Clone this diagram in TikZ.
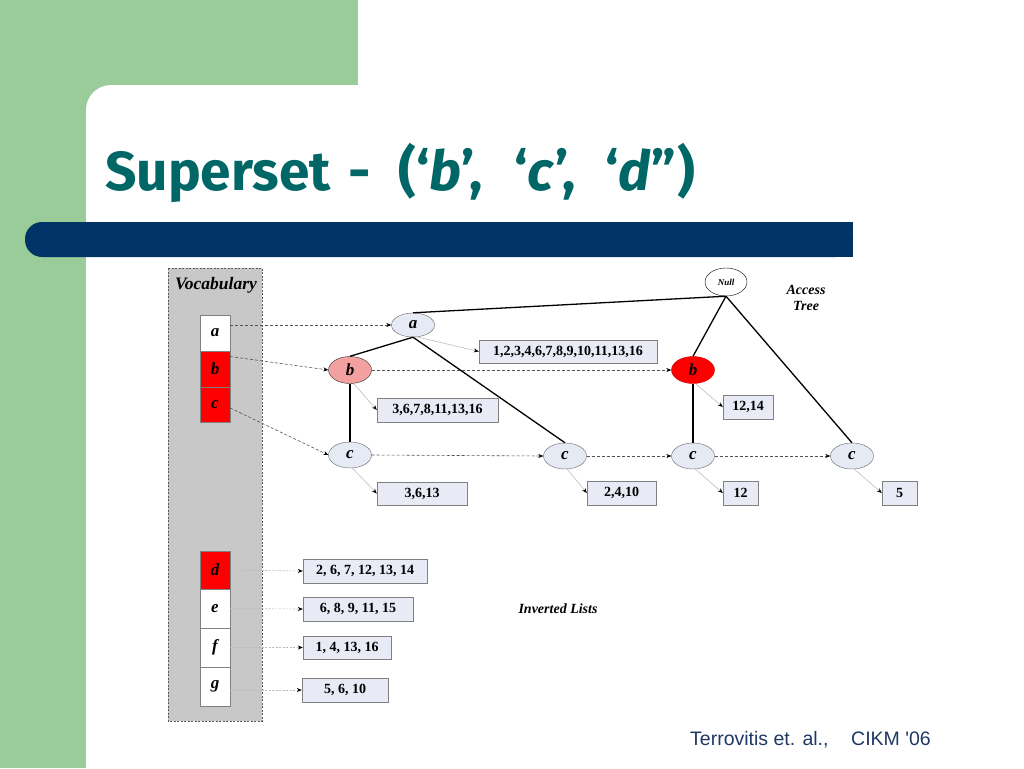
\documentclass[tikz,border=0pt]{standalone}
\usepackage{fontspec}
\setmainfont{Liberation Serif}
\newfontfamily\titlefont{Fira Sans}
\newfontfamily\footfont{Liberation Sans}
\usetikzlibrary{shapes.geometric,arrows.meta}
\definecolor{slgreen}{RGB}{153,204,153}
\definecolor{slnavy}{RGB}{0,51,102}
\definecolor{slteal}{RGB}{0,102,102}
\definecolor{panelgray}{RGB}{200,200,200}
\definecolor{nodefill}{RGB}{230,234,245}
\definecolor{boxfill}{RGB}{232,235,245}
\definecolor{pinkb}{RGB}{242,160,160}
\definecolor{footblue}{RGB}{31,56,100}
\begin{document}
\begin{tikzpicture}[x=1pt,y=-1pt,
  tnode/.style={ellipse,draw=gray!80!black,fill=nodefill,minimum width=43pt,minimum height=26pt,inner sep=0pt,font=\fontsize{17}{17}\selectfont\bfseries\itshape},
  cell/.style={rectangle,draw=gray,fill=white,minimum width=30pt,inner sep=0pt,font=\fontsize{17}{17}\selectfont\bfseries\itshape},
  redcell/.style={cell,fill=red},
  lbox/.style={rectangle,draw=gray,fill=boxfill,minimum height=24pt,inner sep=0pt,font=\fontsize{14}{14}\selectfont\bfseries},
  tedge/.style={draw=black,line width=1.3pt},
  dlink/.style={draw=gray!65!black,dash pattern=on 3pt off 2pt,line width=0.6pt,-{Stealth[length=5pt,width=4pt,color=black]}},
  glink/.style={draw=gray!50,line width=0.6pt,-{Stealth[length=5pt,width=4pt,color=black]}},
  ilink/.style={draw=gray!55,dash pattern=on 2pt off 1.5pt,line width=0.6pt,-{Stealth[length=5pt,width=4pt,color=black]}},
  lbl/.style={font=\fontsize{14}{16}\selectfont\bfseries\itshape,align=center}
]
\useasboundingbox (0,0) rectangle (1024,768);
\clip (0,0) rectangle (1024,768);
% slide background
\fill[slgreen] (0,0) rectangle (1024,768);
\fill[white] (358,0) rectangle (1024,86);
\fill[white,rounded corners=25pt] (86,85) rectangle (1100,850);
\fill[slnavy,rounded corners=17pt] (25,222) rectangle (853,257);
\fill[slnavy] (800,222) rectangle (853,257);
% title
\node[anchor=base west,inner sep=0pt,text=slteal,font=\titlefont\fontsize{55}{60}\selectfont\bfseries] (title) at (105,190) {Superset\hspace{18pt}-\hspace{27pt}(‘\textit{b}’,\hspace{32pt}‘\textit{c}’,\hspace{29pt}‘\textit{d}”\hspace{2pt})};
% vocabulary panel
\draw[fill=panelgray,draw=gray!70!black,dash pattern=on 2pt off 1.5pt,line width=0.6pt] (168,268) rectangle (262,721);
\node[font=\fontsize{17.5}{17.5}\selectfont\bfseries\itshape] (voc) at (216,285) {Vocabulary};
\node[cell,minimum height=36pt] (va) at (215,333) {a};
\node[redcell,minimum height=36pt] (vb) at (215,369) {b};
\node[redcell,minimum height=35pt] (vc) at (215,404.5) {c};
\node[redcell,minimum height=38pt] (vd) at (215,570) {d};
\node[cell,minimum height=39pt] (ve) at (215,608.5) {e};
\node[cell,minimum height=39pt] (vf) at (215,647.5) {f};
\node[cell,minimum height=39pt] (vg) at (215,686.5) {g};
% access tree nodes
\node[tnode,fill=white,draw=black,minimum width=42pt,minimum height=28pt,font=\fontsize{9}{9}\selectfont\bfseries\itshape] (null) at (726,282) {Null};
\node[lbl] (acc) at (806,298) {Access\\Tree};
\node[tnode,minimum height=24pt] (a) at (413,325) {a};
\node[tnode,fill=pinkb,draw=black!80,minimum height=27pt] (b1) at (350,370) {b};
\node[tnode,fill=red,draw=red!80!black,minimum height=27pt] (b2) at (693,370) {b};
\node[tnode] (c1) at (350,455) {c};
\node[tnode] (c2) at (565,456) {c};
\node[tnode] (c3) at (693,456) {c};
\node[tnode] (c4) at (852,456) {c};
% tree edges
\draw[tedge] (null.south) -- (a.north);
\draw[tedge] (null.south) -- (b2.north);
\draw[tedge] (null.south) -- (c4.north);
\draw[tedge] (a.south) -- (b1.north);
\draw[tedge] (a.south) -- (c2.north);
\draw[tedge] (b1.south) -- (c1.north);
\draw[tedge] (b2.south) -- (c3.north);
% list boxes
\node[lbox,minimum width=178pt,minimum height=23pt] (la) at (568,351.5) {1,2,3,4,6,7,8,9,10,11,13,16};
\node[lbox,minimum width=121pt] (lb1) at (437.5,410) {3,6,7,8,11,13,16};
\node[lbox,minimum width=90pt,minimum height=23pt] (lc1) at (422,493.5) {3,6,13};
\node[lbox,minimum width=69pt] (lc2) at (621.5,493) {2,4,10};
\node[lbox,minimum width=50pt] (lb2) at (748,407) {12,14};
\node[lbox,minimum width=35pt] (lc3) at (740.5,493) {12};
\node[lbox,minimum width=35pt] (lc4) at (899.5,493) {5};
\node[lbox,minimum width=124pt] (ld) at (365,571) {2, 6, 7, 12, 13, 14};
\node[lbox,minimum width=110pt] (le) at (358,609) {6, 8, 9, 11, 15};
\node[lbox,minimum width=88pt,minimum height=23pt] (lf) at (347,647.5) {1, 4, 13, 16};
\node[lbox,minimum width=86pt] (lg) at (345,690) {5, 6, 10};
\node[lbl] (inv) at (558,609) {Inverted Lists};
% vocabulary links
\draw[dlink] ([yshift=8pt]va.east) -- (a.west);
\draw[dlink] ([yshift=12.5pt]vb.east) -- (b1.west);
\draw[dlink] ([yshift=-3.5pt]vc.east) -- (c1.west);
% same-label links
\draw[dlink] (b1.east) -- (b2.west);
\draw[dlink] (c1.east) -- (c2.west);
\draw[dlink] (c2.east) -- (c3.west);
\draw[dlink] (c3.east) -- (c4.west);
% node to list links
\draw[glink] (a.-70) -- (la.west);
\draw[glink] (b1.-75) -- (lb1.west);
\draw[glink] (c1.-80) -- (lc1.west);
\draw[glink] (c2.-80) -- (lc2.west);
\draw[glink] (b2.-80) -- (lb2.west);
\draw[glink] (c3.-80) -- (lc3.west);
\draw[glink] (c4.-80) -- (lc4.west);
% inverted list links
\draw[ilink] (vd.east) -- (ld.west);
\draw[ilink] (ve.east) -- (le.west);
\draw[ilink] (vf.east) -- (lf.west);
\draw[ilink] ([yshift=-3.5pt]vg.east) -- (lg.west);
% footer
\node[anchor=base west,inner sep=0pt,text=footblue,font=\footfont\fontsize{19.5}{22}\selectfont] (f1) at (690,745) {Terrovitis et. al.,};
\node[anchor=base west,inner sep=0pt,text=footblue,font=\footfont\fontsize{19.5}{22}\selectfont] (f2) at (851,745) {CIKM '06};
\end{tikzpicture}
\end{document}
